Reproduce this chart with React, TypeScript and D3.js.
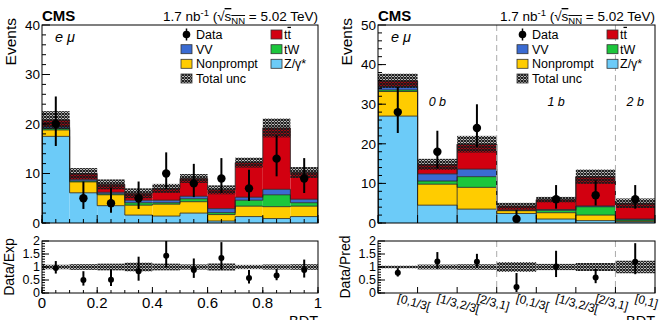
import React from "react";
import * as d3 from "d3";

// left panel: BDT output, 10 equal bins
const leftEdges = [0, 0.1, 0.2, 0.3, 0.4, 0.5, 0.6, 0.7, 0.8, 0.9, 1];
const leftZ = [17.5, 6.1, 3.5, 1.6, 1.4, 2.0, 0.4, 1.3, 0.9, 1.3];
const leftNP = [1.3, 2.2, 2.2, 2.0, 2.4, 2.3, 1.3, 2.1, 2.4, 2.1];
const leftTW = [0.3, 0.2, 0.2, 0.5, 0.3, 0.6, 0.4, 1.2, 2.4, 0.7];
const leftVV = [0.3, 0.3, 0.3, 0.5, 0.5, 0.5, 0.8, 0.6, 1.1, 0.7];
const leftTT = [1.4, 1.2, 1.6, 1.4, 2.4, 3.6, 3.8, 7.0, 12.4, 5.4];
const leftUnc = [1.8, 1.1, 1.0, 1.0, 0.9, 0.9, 0.9, 1.0, 1.9, 1.1];
const leftData = [20, 5, 4, 5, 10, 8, 9, 7, 13, 9];
const leftErrLo = [4.44, 2.16, 1.91, 2.16, 3.11, 2.77, 2.94, 2.58, 3.57, 2.94];
const leftErrHi = [5.56, 3.38, 3.16, 3.38, 4.27, 3.95, 4.11, 3.77, 4.69, 4.11];

// right panel: BDT in b-jet categories
const rightEdges = [0, 1, 2, 3, 4, 5, 6, 7];
const rightLabels = ["[0,1/3[", "[1/3,2/3[", "[2/3,1]", "[0,1/3[", "[1/3,2/3[", "[2/3,1]", "[0,1]"];
const rightCats = ["0 b", "1 b", "2 b"];
const rightCatEdges = [0, 3, 6, 7];
const rightZ = [27.0, 4.5, 3.5, 2.4, 1.0, 0.6, 0.3];
const rightNP = [6.2, 5.3, 5.5, 0.7, 1.6, 1.4, 0.2];
const rightTW = [0.4, 0.8, 2.7, 0.1, 0.6, 2.1, 0.3];
const rightVV = [0.9, 1.8, 1.9, 0.1, 0.2, 0.2, 0.2];
const rightTT = [1.4, 2.4, 6.3, 1.0, 2.5, 7.4, 4.0];
const rightUnc = [1.8, 1.4, 2.1, 0.8, 0.7, 1.8, 1.2];
const rightData = [28, 18, 24, 1, 6, 7, 6];
const rightErrLo = [5.27, 4.22, 4.88, 0.83, 2.38, 2.58, 2.38];
const rightErrHi = [6.34, 5.3, 5.98, 2.3, 3.58, 3.77, 3.58];

const MAIN_TOP = 25;
const MAIN_BOT = 223;
const RAT_TOP = 241;
const RAT_BOT = 293;
const FONT = "'Liberation Sans', Arial, Helvetica, sans-serif";

const keys = ["z", "np", "tw", "vv", "tt"];
const fills: Record<string, string> = {
  z: "#6ccbf8",
  np: "#ffcc00",
  tw: "#1cc63c",
  vv: "#3a6bd2",
  tt: "#d20010",
};

function Legend({ x0 }: { x0: number }) {
  const c1 = x0 + 139;
  const c2 = x0 + 229;
  const rows = [34.5, 49.2, 63.8, 78.5];
  const box = (x: number, yc: number, fill: string) => (
    <rect x={x} y={yc - 4.5} width={11} height={9} fill={fill} stroke="#333" strokeWidth={0.8} />
  );
  return (
    <g fontSize={12.5}>
      <line x1={c1 + 5.5} x2={c1 + 5.5} y1={rows[0] - 6} y2={rows[0] + 6} stroke="#000" strokeWidth={1.5} />
      <circle cx={c1 + 5.5} cy={rows[0]} r={3.8} fill="#000" />
      <text x={c1 + 15} y={rows[0] + 4.3}>Data</text>
      {box(c1, rows[1], fills.vv)}
      <text x={c1 + 15} y={rows[1] + 4.3}>VV</text>
      {box(c1, rows[2], fills.np)}
      <text x={c1 + 15} y={rows[2] + 4.3}>Nonprompt</text>
      {box(c1, rows[3], "url(#hatch)")}
      <text x={c1 + 15} y={rows[3] + 4.3}>Total unc</text>
      {box(c2, rows[0], fills.tt)}
      <text x={c2 + 13} y={rows[0] + 4.3}>
        t<tspan textDecoration="overline">t</tspan>
      </text>
      {box(c2, rows[1], fills.tw)}
      <text x={c2 + 13} y={rows[1] + 4.3}>tW</text>
      {box(c2, rows[2], fills.z)}
      <text x={c2 + 13} y={rows[2] + 4.3}>Z/γ*</text>
    </g>
  );
}

type PanelProps = {
  id: string;
  x0: number;
  x1: number;
  edges: number[];
  z: number[];
  np: number[];
  tw: number[];
  vv: number[];
  tt: number[];
  unc: number[];
  data: number[];
  errLo: number[];
  errHi: number[];
  yMax: number;
  ratioTitle: string;
  categorical: boolean;
};

function Panel(p: PanelProps) {
  const x = d3.scaleLinear().domain([p.edges[0], p.edges[p.edges.length - 1]]).range([p.x0, p.x1]);
  const y = d3.scaleLinear().domain([0, p.yMax]).range([MAIN_BOT, MAIN_TOP]);
  const yr = d3.scaleLinear().domain([0, 2]).range([RAT_BOT, RAT_TOP]);

  const rows = p.data.map((_, i) => ({ z: p.z[i], np: p.np[i], tw: p.tw[i], vv: p.vv[i], tt: p.tt[i] }));
  const series = d3.stack<any>().keys(keys)(rows);
  const total = rows.map((r: any) => d3.sum(keys, (k) => r[k]));
  const mid = (i: number) => (x(p.edges[i]) + x(p.edges[i + 1])) / 2;

  // ROOT-like outline of a histogram
  const stepPath = (tops: number[]) => {
    let d = `M${x(p.edges[0])},${y(0)}`;
    tops.forEach((t, i) => {
      d += `V${y(t)}H${x(p.edges[i + 1])}`;
    });
    return d + `V${y(0)}`;
  };

  const yMajor = d3.range(0, p.yMax + 0.1, 10);
  const yMinor = d3.range(0, p.yMax, 2);
  const rMajor = [0, 0.5, 1, 1.5, 2];
  const rMinor = d3.range(0, 2, 0.1);
  const xMajor = p.categorical ? p.edges : x.ticks(5);
  const xMinor = p.categorical ? [] : x.ticks(25);
  const fmt = d3.format("~g");

  return (
    <g>
      <defs>
        <clipPath id={`main-${p.id}`}>
          <rect x={p.x0} y={MAIN_TOP} width={p.x1 - p.x0} height={MAIN_BOT - MAIN_TOP} />
        </clipPath>
        <clipPath id={`rat-${p.id}`}>
          <rect x={p.x0} y={RAT_TOP} width={p.x1 - p.x0} height={RAT_BOT - RAT_TOP} />
        </clipPath>
      </defs>

      {/* stacked backgrounds */}
      <g clipPath={`url(#main-${p.id})`}>
        {series.map((s) => (
          <g key={s.key}>
            {s.map((d, i) => (
              <rect
                key={i}
                x={x(p.edges[i])}
                width={x(p.edges[i + 1]) - x(p.edges[i])}
                y={y(d[1])}
                height={y(d[0]) - y(d[1])}
                fill={fills[s.key]}
              />
            ))}
          </g>
        ))}
        {series.map((s) => (
          <path key={"o" + s.key} d={stepPath(s.map((d) => d[1]))} fill="none" stroke="#222" strokeWidth={0.8} />
        ))}
        {p.categorical &&
          p.edges.slice(1, -1).map((e) => (
            <line key={"v" + e} x1={x(e)} x2={x(e)} y1={y(0)} y2={y(Math.max(total[e - 1], total[e]))} stroke="#222" strokeWidth={0.8} />
          ))}
        {total.map((t, i) => (
          <rect
            key={"u" + i}
            x={x(p.edges[i])}
            width={x(p.edges[i + 1]) - x(p.edges[i])}
            y={y(t + p.unc[i])}
            height={y(t - p.unc[i]) - y(t + p.unc[i])}
            fill="url(#hatch)"
          />
        ))}
        {p.data.map((d, i) => (
          <g key={"d" + i}>
            <line x1={mid(i)} x2={mid(i)} y1={y(d - p.errLo[i])} y2={y(d + p.errHi[i])} stroke="#000" strokeWidth={2} />
            <circle cx={mid(i)} cy={y(d)} r={4.2} fill="#000" />
          </g>
        ))}
      </g>

      {/* ratio */}
      <g clipPath={`url(#rat-${p.id})`}>
        {total.map((t, i) => (
          <rect
            key={"ru" + i}
            x={x(p.edges[i])}
            width={x(p.edges[i + 1]) - x(p.edges[i])}
            y={yr(1 + p.unc[i] / t)}
            height={yr(1 - p.unc[i] / t) - yr(1 + p.unc[i] / t)}
            fill="url(#hatch)"
          />
        ))}
        {p.data.map((d, i) => (
          <g key={"rd" + i}>
            <line
              x1={mid(i)}
              x2={mid(i)}
              y1={yr((d - p.errLo[i]) / total[i])}
              y2={yr((d + p.errHi[i]) / total[i])}
              stroke="#000"
              strokeWidth={2}
            />
            <circle cx={mid(i)} cy={yr(d / total[i])} r={3} fill="#000" />
          </g>
        ))}
      </g>

      {/* category dividers */}
      {p.categorical &&
        rightCatEdges.slice(1, -1).map((e) => (
          <g key={"div" + e} stroke="#aaa" strokeWidth={1} strokeDasharray="6,4">
            <line x1={x(e)} x2={x(e)} y1={MAIN_TOP} y2={MAIN_BOT} />
            <line x1={x(e)} x2={x(e)} y1={RAT_TOP} y2={RAT_BOT} />
          </g>
        ))}
      {p.categorical &&
        rightCats.map((c, i) => (
          <text
            key={c}
            x={(x(rightCatEdges[i]) + x(rightCatEdges[i + 1])) / 2}
            y={106}
            textAnchor="middle"
            fontSize={12.5}
            fontStyle="italic"
          >
            {c}
          </text>
        ))}

      {/* frames */}
      <rect x={p.x0} y={MAIN_TOP} width={p.x1 - p.x0} height={MAIN_BOT - MAIN_TOP} fill="none" stroke="#000" strokeWidth={1} />
      <rect x={p.x0} y={RAT_TOP} width={p.x1 - p.x0} height={RAT_BOT - RAT_TOP} fill="none" stroke="#000" strokeWidth={1} />

      {/* main y axis */}
      {yMinor.map((t) => (
        <line key={"ym" + t} x1={p.x0} x2={p.x0 + 4} y1={y(t)} y2={y(t)} stroke="#000" />
      ))}
      {yMajor.map((t) => (
        <g key={"yM" + t}>
          <line x1={p.x0} x2={p.x0 + 8} y1={y(t)} y2={y(t)} stroke="#000" />
          <text x={p.x0 - 2} y={y(t) + 4.8} textAnchor="end" fontSize={13.5}>
            {t}
          </text>
        </g>
      ))}
      <text transform={`translate(${p.x0 - 26},${MAIN_TOP - 7}) rotate(-90)`} textAnchor="end" fontSize={15.5}>
        Events
      </text>

      {/* ratio y axis */}
      {rMinor.map((t) => (
        <line key={"rm" + t} x1={p.x0} x2={p.x0 + 3} y1={yr(t)} y2={yr(t)} stroke="#000" />
      ))}
      {rMajor.map((t) => (
        <g key={"rM" + t}>
          <line x1={p.x0} x2={p.x0 + 7} y1={yr(t)} y2={yr(t)} stroke="#000" />
          <text x={p.x0 - 2} y={yr(t) + 4.3} textAnchor="end" fontSize={12.5}>
            {fmt(t)}
          </text>
        </g>
      ))}
      <text transform={`translate(${p.x0 - 28},${(RAT_TOP + RAT_BOT) / 2}) rotate(-90)`} textAnchor="middle" fontSize={14}>
        {p.ratioTitle}
      </text>

      {/* x axes */}
      {xMinor.map((t) => (
        <g key={"xm" + t} stroke="#000">
          <line x1={x(t)} x2={x(t)} y1={MAIN_BOT} y2={MAIN_BOT - 4} />
          <line x1={x(t)} x2={x(t)} y1={RAT_BOT} y2={RAT_BOT - 3} />
        </g>
      ))}
      {xMajor.map((t) => (
        <g key={"xM" + t} stroke="#000">
          <line x1={x(t)} x2={x(t)} y1={MAIN_BOT} y2={MAIN_BOT - 8} />
          <line x1={x(t)} x2={x(t)} y1={RAT_BOT} y2={RAT_BOT - 6} />
        </g>
      ))}
      {!p.categorical &&
        xMajor.map((t) => (
          <text key={"xl" + t} x={x(t)} y={308} textAnchor="middle" fontSize={15}>
            {fmt(t)}
          </text>
        ))}
      {p.categorical &&
        rightLabels.map((l, i) => (
          <text key={"cl" + i} transform={`translate(${mid(i) - 1},${302}) rotate(15)`} fontSize={12}>
            {l}
          </text>
        ))}
      <text x={p.x1} y={326} textAnchor="end" fontSize={14.5}>
        BDT
      </text>

      {/* header */}
      <text x={p.x0} y={21} fontSize={15} fontWeight="bold">
        CMS
      </text>
      <text x={p.x1} y={21} textAnchor="end" fontSize={13.5}>
        1.7 nb<tspan dy={-5} fontSize={9.5}>-1</tspan>
        <tspan dy={5}> (√</tspan>
        <tspan textDecoration="overline">s</tspan>
        <tspan dy={3} fontSize={9.5} textDecoration="overline">
          NN
        </tspan>
        <tspan dy={-3}> = 5.02 TeV)</tspan>
      </text>
      <text x={p.x0 + 13} y={42} fontSize={14.5} fontStyle="italic">
        e μ
      </text>
      <Legend x0={p.x0} />
    </g>
  );
}

export default function App() {
  return (
    <svg
      width={660}
      height={320}
      style={{ position: "absolute", left: 0, top: 0, background: "#fff" }}
      fontFamily={FONT}
    >
      <defs>
        <pattern id="hatch" width={3} height={3} patternUnits="userSpaceOnUse">
          <path d="M0,0L3,3M3,0L0,3" stroke="#1a1a1a" strokeWidth={1.2} />
        </pattern>
      </defs>
      <Panel
        id="l"
        x0={42}
        x1={318}
        edges={leftEdges}
        z={leftZ}
        np={leftNP}
        tw={leftTW}
        vv={leftVV}
        tt={leftTT}
        unc={leftUnc}
        data={leftData}
        errLo={leftErrLo}
        errHi={leftErrHi}
        yMax={40}
        ratioTitle="Data/Exp"
        categorical={false}
      />
      <Panel
        id="r"
        x0={378}
        x1={655}
        edges={rightEdges}
        z={rightZ}
        np={rightNP}
        tw={rightTW}
        vv={rightVV}
        tt={rightTT}
        unc={rightUnc}
        data={rightData}
        errLo={rightErrLo}
        errHi={rightErrHi}
        yMax={50}
        ratioTitle="Data/Pred"
        categorical={true}
      />
    </svg>
  );
}
